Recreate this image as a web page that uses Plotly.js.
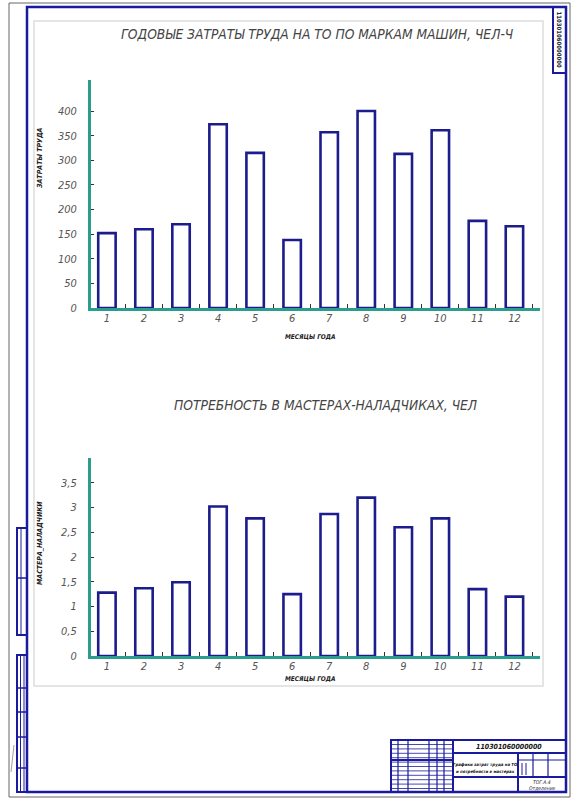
<!DOCTYPE html>
<html>
<head>
<meta charset="utf-8">
<script src="https://cdn.plot.ly/plotly-3.0.1.min.js"></script>
<style>html,body{margin:0;padding:0;background:#fff;}#chart{width:579px;height:800px;}</style>
</head>
<body>
<div id="chart"></div>
<script>
// ---- data ----
const months = ['1','2','3','4','5','6','7','8','9','10','11','12'];
const laborHours = [152, 160, 170, 373, 315, 138, 357, 400, 313, 361, 177, 166];
const adjusters = [1.28, 1.37, 1.49, 3.02, 2.78, 1.25, 2.87, 3.20, 2.60, 2.78, 1.35, 1.20];
const laborTicks = [0, 50, 100, 150, 200, 250, 300, 350, 400];
const laborTickText = ['0', '50', '100', '150', '200', '250', '300', '350', '400'];
const adjTicks = [0, 0.5, 1, 1.5, 2, 2.5, 3, 3.5];
const adjTickText = ['0', '0,5', '1', '1,5', '2', '2,5', '3', '3,5'];
const title1 = 'ГОДОВЫЕ ЗАТРАТЫ ТРУДА НА ТО ПО МАРКАМ МАШИН, ЧЕЛ-Ч';
const title2 = 'ПОТРЕБНОСТЬ В МАСТЕРАХ-НАЛАДЧИКАХ, ЧЕЛ';
const yTitle1 = 'ЗАТРАТЫ ТРУДА';
const yTitle2 = 'МАСТЕРА_НАЛАДЧИКИ';
const xTitle = 'МЕСЯЦЫ ГОДА';
const stampCode = '110301060000000';
const blockTitle1 = 'Графики затрат труда на ТО';
const blockTitle2 = 'и потребности в мастерах';

// ---- helpers (page pixels -> paper) ----
const W = 579, H = 800;
const PX = x => x / W;
const PY = y => 1 - y / H;
const FONT = "'Liberation Sans Narrow', 'DejaVu Sans Condensed', 'Arial Narrow', 'Liberation Sans', sans-serif";
const TEAL = '#2a9d8e';
const NAVY = '#1c1c8c';
const FRAME = '#1a1a9e';

const barStyle = {color: '#ffffff', line: {color: NAVY, width: 2.6}};

const traces = [
  {type: 'bar', x: months, y: laborHours, xaxis: 'x', yaxis: 'y', marker: barStyle, hoverinfo: 'x+y'},
  {type: 'bar', x: months, y: adjusters, xaxis: 'x2', yaxis: 'y2', marker: barStyle, hoverinfo: 'x+y'}
];

const tickFont = {family: FONT, size: 11, color: '#555', style: 'italic'};

function xAxis(anchor) {
  return {
    domain: [PX(91), PX(540)], anchor: anchor, type: 'category',
    range: [-0.43, 11.69], showline: true, linecolor: TEAL, linewidth: 3,
    showgrid: false, zeroline: false, ticks: 'inside', tickson: 'boundaries',
    ticklen: 4, tickwidth: 1, tickcolor: '#333', tickfont: tickFont, fixedrange: true,
    ticklabelstandoff: -2
  };
}
function yAxis(anchor, top, bottom, max, vals, text) {
  return {
    domain: [PY(bottom), PY(top)], anchor: anchor, range: [0, max],
    showline: true, linecolor: TEAL, linewidth: 3, showgrid: false, zeroline: false,
    ticks: 'inside', ticklen: 3, tickwidth: 1, tickcolor: '#333',
    tickvals: vals, ticktext: text, tickfont: tickFont, ticklabelstandoff: 9, fixedrange: true
  };
}

// ---- frame shapes ----
const shapes = [];
function rect(x0, y0, x1, y1, color, width) {
  shapes.push({type: 'rect', xref: 'paper', yref: 'paper', x0: PX(x0), x1: PX(x1), y0: PY(y1), y1: PY(y0),
    line: {color: color, width: width}, fillcolor: 'rgba(0,0,0,0)'});
}
function line(x0, y0, x1, y1, color, width) {
  shapes.push({type: 'line', xref: 'paper', yref: 'paper', x0: PX(x0), x1: PX(x1), y0: PY(y0), y1: PY(y1),
    line: {color: color, width: width}});
}
rect(9, 3, 570, 797, '#666', 1);          // sheet edge
rect(27, 7, 566, 792, FRAME, 2.5);        // drawing frame
rect(34, 21, 543, 686, '#dddddd', 1.5);   // chart field
rect(553, 7, 566, 73, FRAME, 2);          // top-right stamp
// left strips
rect(17, 528, 27, 635, FRAME, 2);
line(17, 578, 27, 578, FRAME, 1.5);
line(21, 528, 21, 635, FRAME, 1);
rect(17, 655, 27, 792, FRAME, 2);
[688, 712, 737, 768].forEach(y => line(17, y, 27, y, FRAME, 1.5));
line(20.5, 655, 20.5, 792, FRAME, 1);
line(24, 655, 24, 792, FRAME, 1);
// title block
rect(391, 740, 566, 792, FRAME, 2);
line(453, 740, 453, 792, FRAME, 2);
[398, 408, 429, 437, 444].forEach(x => line(x, 740, x, 792, FRAME, 1.2));
for (let y = 744.5; y < 791; y += 4.4) line(391, y, 453, y, FRAME, 0.8);
line(391, 760, 453, 760, FRAME, 2);
line(453, 753, 566, 753, FRAME, 2);
line(518, 753, 518, 792, FRAME, 2);
line(518, 760, 566, 760, FRAME, 1);
line(533, 753, 533, 777, FRAME, 1.2);
line(548, 753, 548, 777, FRAME, 1.2);
line(522, 763, 522, 775, FRAME, 1);
line(526, 763, 526, 775, FRAME, 1);
line(453, 777, 566, 777, FRAME, 2);
// small slanted mark bottom-left
line(11, 772, 14, 745, '#888', 0.8);

// ---- annotations ----
function ann(text, x, y, size, opts) {
  return Object.assign({text: text, xref: 'paper', yref: 'paper', x: PX(x), y: PY(y),
    xanchor: 'center', yanchor: 'middle', showarrow: false,
    font: {family: FONT, size: size, color: '#444', style: 'italic'}}, opts || {});
}
const boldSmall = (size) => ({family: FONT, size: size, color: '#222', style: 'italic', weight: 'bold'});
const annotations = [
  ann(title1, 317.5, 34, 13.7),
  ann(title2, 325.5, 405, 13.7),
  ann(yTitle1, 40, 158, 7, {textangle: -90, font: boldSmall(7)}),
  ann(yTitle2, 40, 543, 7, {textangle: -90, font: boldSmall(7)}),
  ann(xTitle, 310, 337, 6.5, {font: boldSmall(6.5)}),
  ann(xTitle, 310, 679, 6.5, {font: boldSmall(6.5)}),
  ann(stampCode, 559.5, 40, 6, {textangle: 90, font: {family: FONT, size: 6, color: '#223', weight: 'bold'}}),
  ann(stampCode, 509, 746.5, 7, {font: {family: FONT, size: 7, color: '#111', style: 'italic', weight: 'bold'}}),
  ann(blockTitle1, 485.5, 764, 4.3, {font: {family: FONT, size: 4.3, color: '#111', style: 'italic', weight: 'bold'}}),
  ann(blockTitle2, 485.5, 771, 4.3, {font: {family: FONT, size: 4.3, color: '#111', style: 'italic', weight: 'bold'}}),
  ann('ТОГ.А.4', 542, 782, 5, {font: {family: FONT, size: 5, color: '#222', style: 'italic'}}),
  ann('Отделение', 542, 788, 5, {font: {family: FONT, size: 5, color: '#222', style: 'italic'}})
];

const layout = {
  width: W, height: H, margin: {l: 0, r: 0, t: 0, b: 0},
  paper_bgcolor: '#ffffff', plot_bgcolor: 'rgba(0,0,0,0)',
  showlegend: false, bargap: 0.53, separators: ',.',
  xaxis: xAxis('y'),
  yaxis: yAxis('x', 80, 308, 463, laborTicks, laborTickText),
  xaxis2: xAxis('y2'),
  yaxis2: yAxis('x2', 458, 656, 4.0, adjTicks, adjTickText),
  shapes: shapes,
  annotations: annotations
};

Plotly.newPlot('chart', traces, layout, {displayModeBar: false, staticPlot: true});
</script>
</body>
</html>
